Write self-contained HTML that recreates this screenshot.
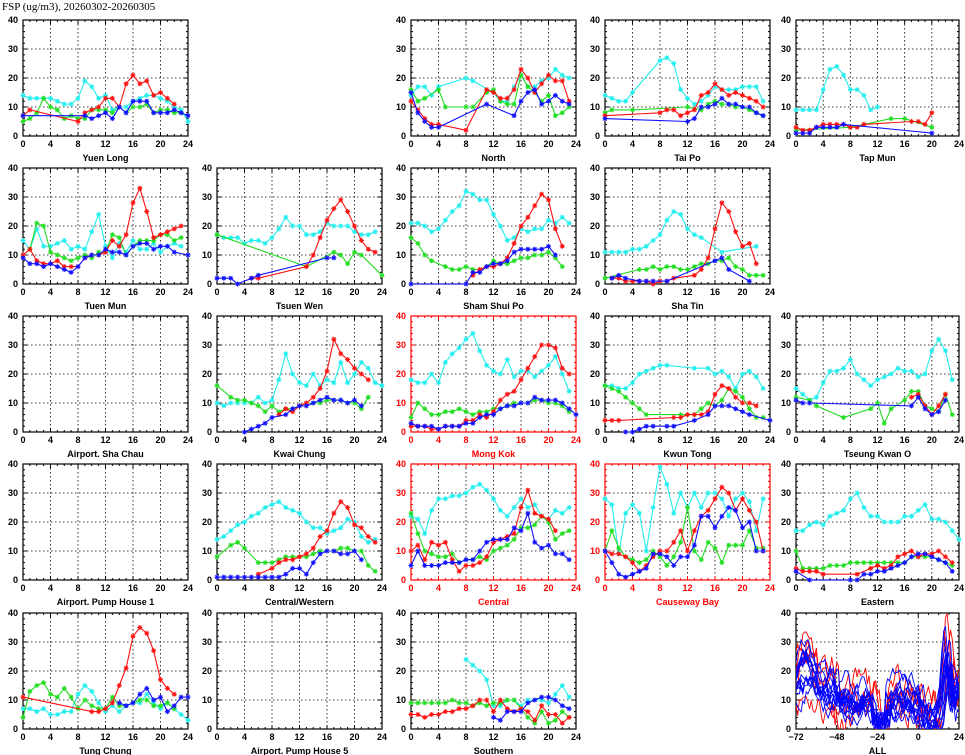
<!DOCTYPE html>
<html><head><meta charset="utf-8"><style>
body{margin:0;background:#fff;width:965px;height:755px;overflow:hidden}
svg{display:block}
text{font-family:"Liberation Sans",sans-serif;font-size:9px;font-weight:bold}
</style></head><body>
<svg id="s" width="965" height="755" xmlns="http://www.w3.org/2000/svg"></svg>
<script>
const S=document.getElementById('s');let h='';
h+='<text x="2" y="10" style="font-family:Liberation Serif,serif;font-size:11px;font-weight:normal">FSP (ug/m3), 20260302-20260305</text>';
const cols=[23,217,411,605,796],tops=[20,168,316,464,613],H=116;
const C={c:'#22eeee',g:'#22dd22',r:'#ff1111',b:'#1111ff'};
const P=[
[0,0,'Yuen Long',0,{c:'0:14,1:13,2:13,3:13,4:13,5:12,6:11,7:11,8:13,9:19,10:17,11:13,12:14,13:9,14:10,15:10,16:12,17:13,18:14,19:14,20:13,21:12,22:10,23:9,24:5',g:'0:5,1:6,2:8,3:13,4:10,5:9,6:6,7:7,8:6,9:6,10:9,11:9,12:9,13:8,14:10,15:8,16:10,17:10,18:11,19:8,20:9,21:9,22:8,23:8',r:'0:7,1:9,8:5,9:8,10:9,11:10,12:13,13:13,14:10,15:18,16:21,17:18,18:19,19:14,20:15,21:13,22:11',b:'0:7,9:7,10:6,11:7,12:8,13:6,14:10,15:8,16:12,17:12,18:12,19:8,20:8,21:8,22:9,23:8,24:7'}],
[0,2,'North',0,{c:'0:14,1:17,2:17,3:14,4:17,8:20,9:19,12:15,13:12,14:12,15:17,16:21,17:17,18:17,19:19,20:20,21:23,22:21,23:20',g:'0:16,1:12,2:13,4:16,5:10,8:10,9:10,11:15,12:16,13:12,14:11,15:11,16:21,17:17,18:15,19:12,20:14,21:7,22:8,23:10',r:'0:12,1:9,2:6,3:4,4:4,8:2,11:16,12:15,13:13,14:13,15:16,16:23,17:20,18:15,19:18,20:21,21:19,22:19,23:12',b:'0:15,1:8,2:5,3:3,4:3,11:11,15:7,16:12,17:15,18:16,19:11,20:12,21:14,22:12,23:11'}],
[0,3,'Tai Po',0,{c:'0:14,1:13,2:12,3:12,4:15,8:26,9:27,10:25,11:16,12:13,13:11,14:12,15:14,16:17,17:16,18:16,19:16,20:17,21:17,22:17,23:12',g:'0:8,1:9,4:9,12:10,14:9,15:11,16:12,17:11,18:11,19:10,20:10,21:9,22:8,23:7',r:'0:7,8:8,9:9,10:9,11:7,12:8,13:9,14:14,15:15,16:18,17:16,18:14,19:15,20:14,21:13,22:12,23:10',b:'0:6,12:5,13:6,14:10,15:10,16:11,17:13,18:11,19:11,20:10,21:10,22:8,23:7'}],
[0,4,'Tap Mun',0,{c:'0:9,1:9,2:9,3:9,4:16,5:23,6:24,7:21,8:16,9:16,10:14,11:9,12:10',g:'0:2,8:3,10:4,14:6,16:6,20:3',r:'0:3,1:2,2:2,3:3,4:4,5:4,6:4,7:4,8:3,9:3,10:4,17:5,18:5,19:4,20:8',b:'0:1,1:1,2:1,3:3,4:3,5:3,6:3,7:4,20:1'}],
[1,0,'Tuen Mun',0,{c:'0:15,1:12,2:19,3:13,4:13,5:14,6:15,7:12,8:13,9:12,10:18,11:24,12:13,13:9,14:14,15:11,16:15,17:12,18:12,19:14,20:11,21:13,22:14,23:13',g:'0:10,1:12,2:21,3:20,4:11,5:10,6:9,7:8,8:9,9:10,10:9,11:11,12:11,13:17,14:16,15:10,16:13,17:15,18:15,19:15,20:17,21:17,22:15,23:16',r:'0:10,1:12,2:8,3:7,4:7,5:8,6:6,7:6,8:6,9:9,10:10,11:10,12:11,13:15,14:13,15:17,16:28,17:33,18:25,19:16,20:17,21:18,22:19,23:20',b:'0:9,1:7,2:7,3:6,4:7,5:6,6:5,7:4,8:6,9:9,10:10,11:10,12:12,13:11,14:11,15:10,16:13,17:14,18:14,19:12,20:13,21:13,22:11,24:10'}],
[1,1,'Tsuen Wen',0,{c:'0:17,1:16,2:16,3:16,4:14,5:15,6:15,7:14,8:16,9:19,10:23,11:20,12:20,13:17,14:17,15:18,16:21,17:20,18:20,19:20,20:18,21:17,22:17,23:18',g:'0:17,13:6,17:11,18:10,19:7,20:11,21:10,24:3',r:'5:2,6:2,13:6,14:10,15:16,16:22,17:26,18:29,19:25,20:20,21:15,22:12,23:11',b:'0:2,1:2,2:2,3:0,5:2,6:3,16:9,17:9'}],
[1,2,'Sham Shui Po',0,{c:'0:21,1:21,2:20,3:18,4:19,5:22,6:25,7:27,8:32,9:31,10:29,11:29,12:24,13:20,14:15,15:16,16:19,17:18,18:19,19:19,20:22,21:21,22:23,23:21',g:'0:16,1:14,2:10,3:8,5:6,6:5,7:5,8:6,9:5,10:5,11:6,12:8,13:7,14:7,15:8,16:9,17:9,18:10,19:10,20:11,21:9,22:6',r:'9:3,10:5,11:6,12:6,13:7,14:9,15:14,16:20,17:23,18:27,19:31,20:29,21:19,22:13',b:'0:0,8:0,9:4,10:4,11:6,12:7,13:7,14:8,15:11,16:12,17:12,18:12,19:12,20:13,21:10'}],
[1,3,'Sha Tin',0,{c:'0:11,1:11,2:11,3:11,4:12,5:12,6:13,7:15,8:17,9:22,10:25,11:24,12:19,13:17,14:16,17:11,22:13',g:'0:2,5:5,6:5,7:6,8:5,9:6,10:6,11:5,12:5,13:6,14:7,15:7,16:8,17:8,18:9,19:6,20:5,21:3,22:3,23:3',r:'1:2,2:2,3:1,4:1,5:1,6:1,7:0,8:1,9:1,10:2,13:3,14:5,15:9,16:19,17:28,18:25,19:18,20:13,21:14,22:7',b:'1:2,2:3,3:2,5:1,6:1,7:1,9:1,16:8,17:9,18:5,21:1'}],
[2,0,'Airport. Sha Chau',0,{}],
[2,1,'Kwai Chung',0,{c:'0:10,1:9,2:10,3:10,4:10,5:10,6:12,7:10,8:11,9:18,10:27,11:20,12:17,13:16,14:20,15:16,16:18,17:17,18:24,19:17,20:20,21:24,22:22,23:17,24:16',g:'0:16,2:12,3:11,4:11,5:10,6:9,7:7,8:9,9:7,10:8,11:8,12:9,13:10,14:10,15:10,16:11,17:11,18:11,19:10,20:10,21:8,22:12',r:'9:6,10:8,11:7,12:9,13:10,14:12,15:15,16:21,17:32,18:27,19:25,20:22,21:20,22:18',b:'4:0,5:1,6:2,7:3,8:5,10:6,11:8,12:9,13:9,14:10,15:11,16:12,17:11,18:11,19:10,20:11,21:9'}],
[2,2,'Mong Kok',1,{c:'0:18,1:17,2:17,3:20,4:17,5:24,6:27,7:29,8:32,9:34,10:28,11:23,12:21,13:20,14:25,15:19,16:21,17:21,18:19,19:21,20:23,21:26,22:20,23:14',g:'0:5,1:10,2:8,3:6,4:6,5:7,6:7,7:8,8:7,9:6,10:7,11:7,12:8,13:8,14:9,15:10,16:10,17:10,18:11,19:11,20:10,21:10,22:9,23:7',r:'0:2,1:2,2:2,3:1,4:1,5:2,6:2,7:2,8:4,9:4,10:6,11:5,12:7,13:11,14:13,15:14,16:18,17:22,18:26,19:30,20:30,21:29,22:22,23:20',b:'0:3,1:2,2:2,3:2,4:1,5:2,6:2,7:2,8:3,9:3,10:5,11:6,12:6,13:8,14:9,15:9,16:10,17:10,18:12,19:11,20:11,21:11,22:10,23:8,24:6'}],
[2,3,'Kwun Tong',0,{c:'0:16,1:16,2:15,3:15,4:17,5:20,6:21,7:22,8:23,9:23,13:22,15:22,16:20,17:21,18:19,19:15,20:20,21:21,22:19,23:15',g:'0:16,1:15,2:14,3:12,4:10,5:8,6:6,11:6,12:6,13:6,14:8,15:10,16:9,17:11,18:15,19:14,20:12,21:8,22:5,23:5',r:'0:4,1:4,2:4,10:5,11:5,12:6,13:6,14:6,15:7,16:13,17:16,18:15,19:12,20:10,21:10,22:9',b:'3:0,4:0,5:1,6:2,7:2,9:2,10:2,13:4,15:6,16:9,17:9,18:9,19:8,20:7,21:6,24:4'}],
[2,4,'Tseung Kwan O',0,{c:'0:15,1:13,2:11,3:12,4:17,5:21,6:21,7:22,8:25,9:20,10:18,11:16,12:18,13:19,14:20,15:22,16:21,17:21,18:19,19:20,20:28,21:32,22:28,23:18',g:'0:12,2:11,3:9,7:5,11:8,12:10,13:3,14:8,16:11,17:14,18:14,19:9,20:8,21:7,22:13,23:6',r:'17:12,18:13,19:9,20:6,21:9,22:13',b:'0:11,1:10,2:10,17:9,18:12,19:8,20:6,21:7,22:11'}],
[3,0,'Airport. Pump House 1',0,{}],
[3,1,'Central/Western',0,{c:'0:14,1:15,2:17,3:19,4:20,5:22,6:23,7:25,8:26,9:27,10:25,11:24,12:23,13:20,14:18,15:18,16:16,17:17,18:18,19:21,20:20,21:15,22:13,23:14',g:'0:8,2:12,3:13,4:11,6:6,7:6,8:6,9:7,10:8,11:8,12:8,13:8,14:9,15:10,16:10,17:10,18:11,19:11,20:10,21:10,22:5,23:3',r:'6:2,8:4,9:6,10:7,11:7,12:8,13:9,14:11,15:15,16:17,17:23,18:27,19:25,20:19,21:18,22:15,23:13',b:'0:1,1:1,2:1,3:1,4:1,5:1,6:1,7:1,8:1,9:1,10:2,11:4,12:4,13:2,14:6,15:9,16:10,17:10,18:9,19:9,20:10,21:7'}],
[3,2,'Central',1,{c:'0:22,1:21,2:16,3:24,4:28,5:28,6:29,7:29,8:30,9:32,10:33,11:31,12:28,13:24,14:22,15:25,16:28,17:25,18:26,19:22,20:21,21:24,22:23,23:25',g:'0:23,1:16,2:10,3:9,4:8,5:8,6:9,7:6,8:7,9:7,10:8,11:7,12:10,13:11,14:12,15:14,16:18,17:18,18:19,19:22,20:20,21:14,22:16,23:17',r:'0:10,1:12,2:7,3:13,4:12,5:13,6:7,7:3,8:5,9:5,10:6,11:8,12:13,13:14,14:15,15:16,16:25,17:31,18:23,19:22,20:21,21:17',b:'0:5,1:10,2:5,3:5,4:5,5:6,6:6,7:6,8:7,9:7,10:10,11:13,12:14,13:14,14:14,15:18,16:17,17:23,18:13,19:11,20:12,21:9,22:9,23:7'}],
[3,3,'Causeway Bay',1,{c:'0:28,1:26,2:9,3:23,4:26,5:23,6:10,7:25,8:39,9:33,10:23,11:30,12:25,13:30,14:25,15:30,16:30,17:28,18:22,19:28,20:30,21:27,22:17,23:28',g:'0:10,1:17,2:11,3:8,4:7,5:6,6:7,7:10,8:8,9:5,10:8,11:13,12:25,13:10,14:7,15:13,16:11,17:6,18:12,19:12,20:12,21:17,22:11,23:11',r:'0:10,1:9,2:9,3:8,4:6,5:3,6:5,7:8,8:10,9:10,10:13,11:17,12:10,13:17,14:22,15:24,16:28,17:32,18:30,19:24,20:28,21:24,22:20,23:10',b:'0:10,1:6,2:2,3:1,4:2,5:3,6:4,7:9,8:9,9:8,10:5,11:8,12:8,13:12,14:22,15:22,16:18,17:22,18:25,19:24,20:18,21:20,22:10,23:10'}],
[3,4,'Eastern',0,{c:'0:17,1:17,2:19,3:20,4:19,5:22,6:23,7:24,8:28,9:30,10:25,11:22,12:22,13:20,14:20,15:20,16:22,17:22,18:24,19:26,20:21,21:21,22:20,23:17,24:14',g:'0:10,1:4,2:4,3:4,4:4,5:5,6:5,7:5,8:6,9:6,10:6,11:6,12:6,13:6,14:6,15:6,16:6,17:8,18:8,19:8,20:8,21:7,22:6,23:5',r:'0:4,1:3,2:3,3:3,4:2,9:2,11:4,12:5,13:4,14:5,15:8,16:9,17:10,18:8,19:9,20:9,21:10,22:8,23:6',b:'0:3,2:0,8:0,9:0,10:2,11:2,12:3,13:3,14:4,15:5,16:6,17:8,18:9,19:9,20:8,21:7,22:6,23:3'}],
[4,0,'Tung Chung',0,{c:'0:7,1:7,2:6,3:7,4:5,5:5,6:6,7:6,8:12,9:15,10:13,11:9,12:6,13:8,14:6,15:8,16:9,17:9,18:12,19:9,20:7,21:9,22:7,23:5,24:3',g:'0:4,1:13,2:15,3:16,4:12,5:11,6:14,7:11,8:7,9:10,10:8,11:7,12:7,13:11,14:8,15:8,16:9,17:10,18:10,19:8,20:8,21:9,22:7',r:'0:11,10:6,11:6,12:7,13:9,14:15,15:21,16:32,17:35,18:33,19:27,20:17,21:14,22:12',b:'14:9,15:8,16:9,17:12,18:14,19:10,20:11,21:6,22:8,23:11,24:11'}],
[4,1,'Airport. Pump House 5',0,{}],
[4,2,'Southern',0,{c:'8:24,9:22,10:20,11:17,12:8,13:8,14:10,15:10,16:8,17:10,18:10,19:10,20:9,21:12,22:15,23:11',g:'0:9,1:9,2:9,3:9,4:9,5:9,6:10,7:9,8:9,9:8,10:9,11:8,12:9,13:9,14:10,15:10,16:7,17:4,18:2,19:6,20:2,21:3,22:6,23:4',r:'0:5,1:5,2:4,3:5,4:5,5:6,6:6,7:7,8:7,9:8,10:10,11:10,12:6,13:10,14:7,15:6,16:7,17:6,18:3,19:8,20:5,21:5,22:2,23:4',b:'12:4,13:3,14:6,15:6,16:6,17:9,18:10,19:11,20:11,21:10,22:8,23:7'}]
];
function frame(x0,y0,W,col,xl,xmin,xmax,xstep){
 let o='';
 for(let v=10;v<40;v+=10){const y=y0+H-v*H/40;o+=`<line x1="${x0}" y1="${y}" x2="${x0+W}" y2="${y}" stroke="#000" stroke-width="0.8" stroke-dasharray="1.5,2.5"/>`;}
 for(let v=xmin+xstep;v<xmax;v+=xstep){const x=x0+(v-xmin)*W/(xmax-xmin);o+=`<line x1="${x}" y1="${y0}" x2="${x}" y2="${y0+H}" stroke="#000" stroke-width="0.8" stroke-dasharray="1.5,2.5"/>`;}
 for(let v=0;v<=40;v+=2){const y=y0+H-v*H/40,l=v%10?2:4;o+=`<line x1="${x0}" y1="${y}" x2="${x0+l}" y2="${y}" stroke="${col}"/><line x1="${x0+W-l}" y1="${y}" x2="${x0+W}" y2="${y}" stroke="${col}"/>`;}
 for(let v=xmin;v<=xmax;v+=xstep/4){const x=x0+(v-xmin)*W/(xmax-xmin),l=(v-xmin)%xstep?2:4;o+=`<line x1="${x}" y1="${y0}" x2="${x}" y2="${y0+l}" stroke="${col}"/><line x1="${x}" y1="${y0+H-l}" x2="${x}" y2="${y0+H}" stroke="${col}"/>`;}
 o+=`<rect x="${x0}" y="${y0}" width="${W}" height="${H}" fill="none" stroke="${col}" stroke-width="1.2"/>`;
 for(let v=0;v<=40;v+=10){const y=y0+H-v*H/40;o+=`<text x="${x0-5}" y="${y+3}" text-anchor="end" fill="${col}">${v}</text>`;}
 for(let v=xmin;v<=xmax;v+=xstep){const x=x0+(v-xmin)*W/(xmax-xmin);o+=`<text x="${x}" y="${y0+H+11}" text-anchor="middle" fill="${col}">${v<0?'\u2212'+(-v):v}</text>`;}
 o+=`<text x="${x0+W/2}" y="${y0+H+25}" text-anchor="middle" fill="${col}">${xl}</text>`;
 return o;
}
function star(x,y,c){return `<path d="M${x-2.5} ${y}h5M${x} ${y-2.5}v5M${x-1.8} ${y-1.8}l3.6 3.6M${x-1.8} ${y+1.8}l3.6 -3.6" stroke="${c}" stroke-width="1"/>`;}
for(const [r,c,name,red,d] of P){
 const x0=cols[c],y0=tops[r],col=red?'#ff0000':'#000',W=c==4?163:165;
 h+=frame(x0,y0,W,col,name,0,24,4);
 for(const k of ['c','g','r','b']){
  if(!d[k])continue;
  const pts=d[k].split(',').map(s=>s.split(':').map(Number)).map(([t,v])=>[x0+t*W/24,y0+H-v*H/40]);
  h+=`<polyline points="${pts.map(p=>p[0].toFixed(1)+','+p[1].toFixed(1)).join(' ')}" fill="none" stroke="${C[k]}" stroke-width="1.1"/>`;
  for(const p of pts)h+=star(p[0],p[1],C[k]);
 }
}
{const x0=cols[4],y0=tops[4],W=163;
 h+=frame(x0,y0,W,'#000','ALL',-72,24,24);
 let seed=11;const rnd=()=>{seed=(seed*16807)%2147483647;return seed/2147483647;};
 const base=t=>{ if(t<-48)return 17+4*Math.sin((t+72)/4); if(t<-26)return 9; if(t<-18)return 3; if(t<2)return 10; if(t<12)return 5; if(t<=21)return 7+20*Math.exp(-((t-17)**2)/5);return 14;};
 h+=`<clipPath id="cp"><rect x="${x0}" y="${y0}" width="${W}" height="${H}"/></clipPath><g clip-path="url(#cp)">`;
 const line=(col,n,amp)=>{for(let i=0;i<n;i++){let pts=[];let sc=0.6+rnd()*0.8,w=0,sh=(rnd()-0.5)*4;for(let t=-72;t<=24;t+=1){w=w*0.8+(rnd()-0.5)*amp;let v=base(t+sh)*sc+w;v=Math.max(0,Math.min(40,v));pts.push((x0+(t+72)*W/96).toFixed(1)+','+(y0+H-v*H/40).toFixed(1));}h+=`<polyline points="${pts.join(' ')}" fill="none" stroke="${col}" stroke-width="0.9"/>`;}};
 line('#ff0000',4,10);line('#0000ff',14,6);
 h+='</g>';
}
S.innerHTML=h;
</script>
</body></html>
